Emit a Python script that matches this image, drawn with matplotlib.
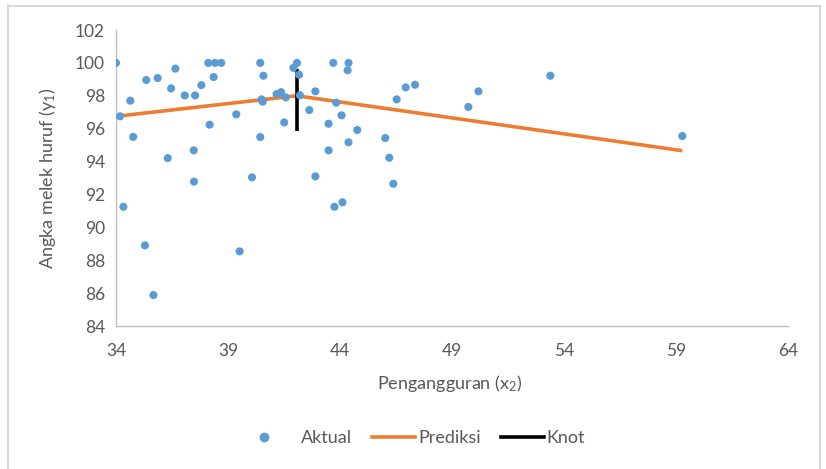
import matplotlib
matplotlib.use("Agg")
import matplotlib.pyplot as plt
from matplotlib.lines import Line2D
from matplotlib.legend_handler import HandlerLine2D
from matplotlib.transforms import Affine2D

plt.rcParams['font.family'] = ['Lato', 'DejaVu Sans']
plt.rcParams['mathtext.default'] = 'regular'

# Actual data (x2 = Pengangguran, y1 = Angka melek huruf)
aktual_x = [34.00, 34.18, 34.64, 34.77, 35.35, 35.86, 36.65, 36.46, 37.07, 37.53,
            37.81, 38.12, 38.42, 38.70, 38.36, 38.18, 39.37, 36.31, 37.47, 40.44,
            40.58, 40.50, 40.55, 40.44, 40.07, 41.17, 41.37, 41.58, 41.51, 41.92,
            42.08, 42.17, 42.21, 42.63, 42.90, 42.90, 43.49, 43.49, 43.70, 43.83,
            44.07, 44.38, 44.34, 44.38, 44.77, 34.33, 35.29, 35.67, 37.48, 39.52,
            43.75, 44.11, 46.02, 46.20, 46.38, 46.53, 46.93, 47.35, 49.73, 50.18,
            53.39, 59.28]
aktual_y = [100.00, 96.75, 97.70, 95.50, 98.96, 99.08, 99.65, 98.45, 98.02, 98.02,
            98.65, 100.00, 100.00, 100.00, 99.14, 96.24, 96.87, 94.21, 94.68, 100.00,
            99.22, 97.78, 97.64, 95.49, 93.04, 98.10, 98.22, 97.90, 96.38, 99.70,
            100.00, 99.28, 98.03, 97.13, 98.27, 93.10, 96.30, 94.68, 100.00, 97.58,
            96.81, 100.00, 99.55, 95.17, 95.92, 91.25, 88.90, 85.88, 92.78, 88.54,
            91.25, 91.52, 95.43, 94.23, 92.65, 97.78, 98.51, 98.67, 97.32, 98.27,
            99.22, 95.55]

# Predicted piecewise-linear line
prediksi_x = [34.00, 42.07, 59.28]
prediksi_y = [96.75, 98.00, 94.66]

# Knot marker line
knot_x = [42.07, 42.07]
knot_y = [95.85, 99.60]

xticks = [34, 39, 44, 49, 54, 59, 64]
yticks = [84, 86, 88, 90, 92, 94, 96, 98, 100, 102]

W, H = 826, 469
fig = plt.figure(figsize=(W / 100, H / 100), dpi=100)
ax = fig.add_axes([116 / W, 1 - 326 / H, (788 - 116) / W, (326 - 30) / H])

blue = '#5B9BD5'
orange = '#ED7D31'
tick_col = '#595959'

ax.plot(prediksi_x, prediksi_y, color=orange, lw=2.6, zorder=2, solid_capstyle='butt')
ax.plot(knot_x, knot_y, color='black', lw=2.6, zorder=3, solid_capstyle='butt')
ax.scatter(aktual_x, aktual_y, s=34, color=blue, edgecolors='none', zorder=4)

ax.set_xlim(34, 64)
ax.set_ylim(84, 102)
ax.set_xticks(xticks)
ax.set_yticks(yticks)
ax.tick_params(length=0, labelsize=12.5, colors=tick_col)
ax.tick_params(axis='x', pad=12)
ax.tick_params(axis='y', pad=8)

for s in ['top', 'right']:
    ax.spines[s].set_visible(False)
for s in ['left', 'bottom']:
    ax.spines[s].set_color('#BFBFBF')
    ax.spines[s].set_linewidth(1.0)

ax.set_xlabel('Pengangguran (x$_{2}$)', fontsize=13, color=tick_col)
ax.set_ylabel('Angka melek huruf (y$_{1}$)', fontsize=13, color=tick_col)
ax.xaxis.set_label_coords((450 - 116) / 672, (326 - 383) / 296)
ax.xaxis.label.set_va('center')
ax.yaxis.set_label_coords((48 - 116) / 672, (326 - 178) / 296)
ax.yaxis.label.set_va('center')


class ShiftedMarkerHandler(HandlerLine2D):
    def create_artists(self, legend, orig_handle, xdescent, ydescent,
                       width, height, fontsize, trans):
        arts = super().create_artists(legend, orig_handle, xdescent, ydescent,
                                      width, height, fontsize, trans)
        shifted = Affine2D().translate(-9, 0) + trans
        for a in arts:
            a.set_transform(shifted)
        return arts


dot_handle = Line2D([], [], marker='o', ls='none', color=blue, markersize=6)
handles = [
    dot_handle,
    Line2D([], [], color=orange, lw=2.6),
    Line2D([], [], color='black', lw=2.6),
]
leg = fig.legend(handles, ['Aktual', 'Prediksi', 'Knot'], loc='center',
                 bbox_to_anchor=(420 / W, 1 - 438 / H), ncol=3, frameon=False,
                 fontsize=13, handlelength=2.4, handletextpad=0.15, columnspacing=1.1,
                 handler_map={dot_handle: ShiftedMarkerHandler()})
for t in leg.get_texts():
    t.set_color(tick_col)

# chart frame
frame_col = '#D9D9D9'
fig.add_artist(Line2D([8 / W, 8 / W], [0, 1 - 6 / H], color=frame_col, lw=1.5, transform=fig.transFigure))
fig.add_artist(Line2D([8 / W, 820 / W], [1 - 6 / H, 1 - 6 / H], color=frame_col, lw=1.5, transform=fig.transFigure))
fig.add_artist(Line2D([820 / W, 820 / W], [0, 1 - 6 / H], color=frame_col, lw=1.5, transform=fig.transFigure))

fig.savefig('out.png', dpi=100)
